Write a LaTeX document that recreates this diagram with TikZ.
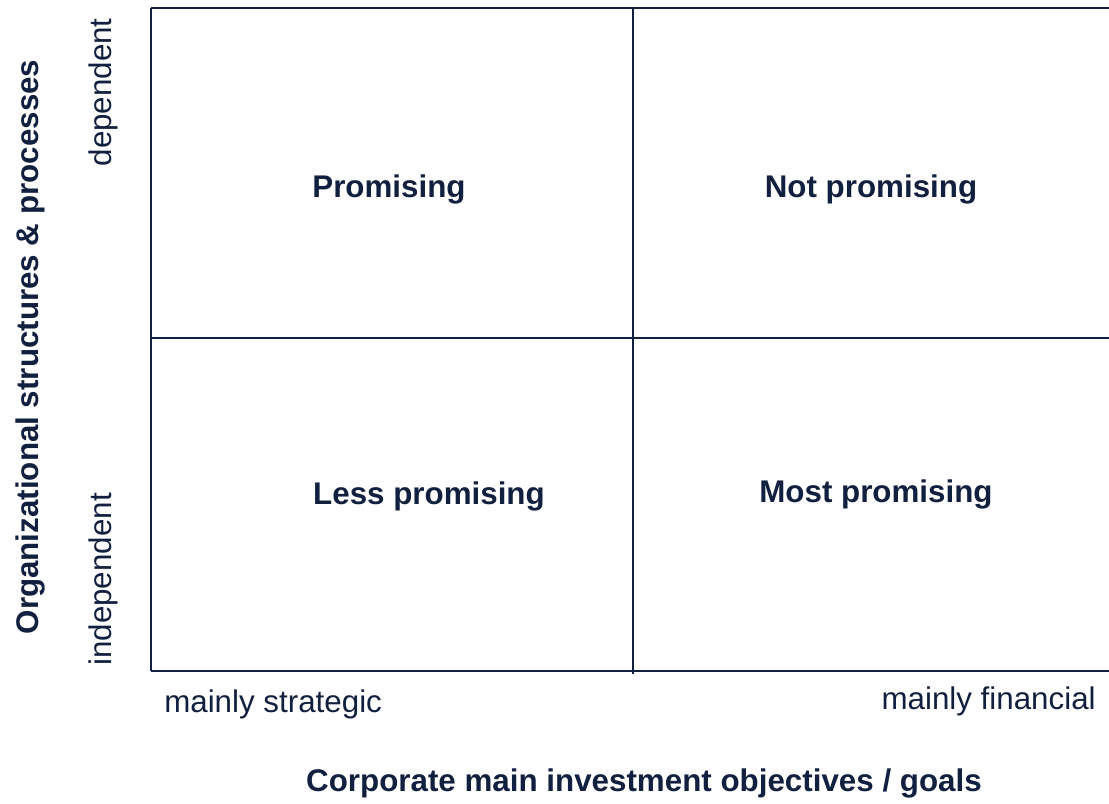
\documentclass[tikz,border=0pt]{standalone}
\usepackage{fontspec}
\setmainfont{Liberation Sans}
\usepackage{xcolor}
\usetikzlibrary{positioning}
\usetikzlibrary{calc}
\definecolor{navy}{HTML}{12203F}
\tikzstyle{gridline} = [draw,navy,line width=1.6pt]
\tikzstyle{cell} = [font=\fontsize{23.5}{26}\selectfont\bfseries,text=navy,inner sep=0pt]
\tikzstyle{axistitle} = [font=\fontsize{23.5}{26}\selectfont\bfseries,text=navy,inner sep=0pt]
\tikzstyle{ticklabel} = [font=\fontsize{23.5}{26}\selectfont,text=navy,inner sep=0pt]
\tikzset{px/.style={x=0.75pt,y=-0.75pt}}

\begin{document}
\begin{tikzpicture}[px]

  \useasboundingbox (0,0) rectangle (1109,803);

  % corners of the matrix
  \foreach \x/\y/\name in {151/8/tl, 1109/8/tr, 151/671/bl, 1109/671/br, 633/8/mt, 633/674/mb, 151/338/ml, 1109/338/mr}
          \coordinate (\name) at (\x,\y);

  \foreach \source/ \dest in {tl/tr, tl/bl, bl/br, mt/mb, ml/mr}
         \path[gridline] (\source) -- (\dest);

  % quadrant labels
  \foreach \x/\y/\name/\label in {389/189/prom/Promising, 871/189/notprom/Not promising, 429/496/lessprom/Less promising, 876/494/mostprom/Most promising}
          \node[cell] (\name) at (\x,\y) {\label};

  % axis labels
  \node[ticklabel,anchor=west] (strat) at (164,704) {mainly strategic};
  \node[ticklabel,anchor=east] (fin) at (1096,701) {mainly financial};
  \node[ticklabel,rotate=90,anchor=east] (dep) at (103,18) {dependent};
  \node[ticklabel,rotate=90,anchor=west] (indep) at (103,666) {independent};

  \node[axistitle] (xtitle) at (644,783) {Corporate main investment objectives / goals};
  \node[axistitle,rotate=90] (ytitle) at (30,347) {Organizational structures \& processes};

\end{tikzpicture}
\end{document}
